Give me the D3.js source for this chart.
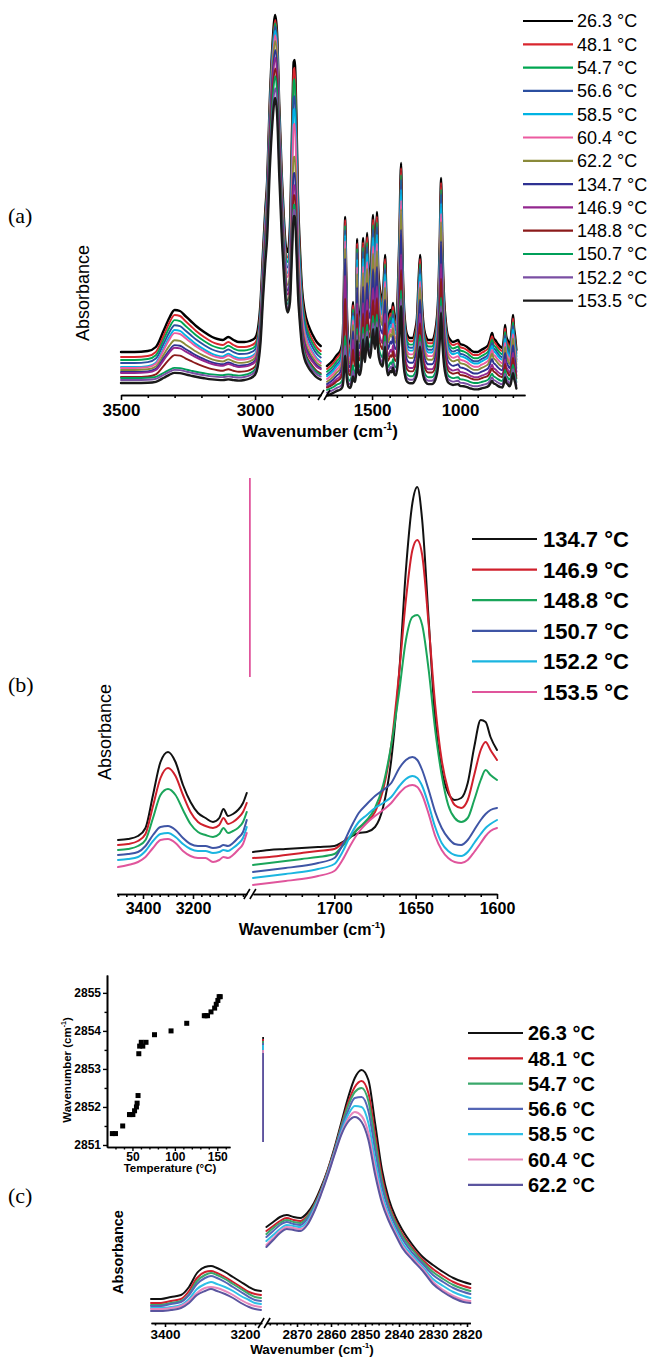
<!DOCTYPE html>
<html>
<head>
<meta charset="utf-8">
<script src="https://cdn.jsdelivr.net/npm/d3@7"></script>
<style>
  html, body { margin: 0; padding: 0; background: #fff; }
  svg { display: block; }
</style>
</head>
<body>
<svg id="fig" width="654" height="1357"></svg>
<script>
// ---------------------------------------------------------------
// Panel (a): full spectra, 13 temperatures
// ---------------------------------------------------------------
const tempsA = ["26.3 °C", "48.1 °C", "54.7 °C", "56.6 °C", "58.5 °C", "60.4 °C", "62.2 °C",
                "134.7 °C", "146.9 °C", "148.8 °C", "150.7 °C", "152.2 °C", "153.5 °C"];
const colorsA = ["#000000", "#d9262e", "#00a651", "#2b4fa0", "#00b3e3", "#ec5ba0", "#8a8a3a",
                 "#2e3192", "#93278f", "#8b1a1a", "#009f59", "#7a4fa3", "#1a1a1a"];

// high-wavenumber window (cm-1) and band profiles of the 26.3 °C spectrum
const wnLeftA = [3500, 3450, 3400, 3370, 3340, 3320, 3300, 3280, 3260, 3240, 3220, 3190, 3160, 3140,
                 3120, 3100, 3080, 3060, 3040, 3020, 3000, 2990, 2980, 2970, 2962, 2955, 2945, 2935,
                 2925, 2918, 2910, 2900, 2892, 2885, 2878, 2870, 2862, 2856, 2852, 2846, 2840, 2832,
                 2825, 2815, 2800, 2785, 2770, 2755];
const nhBand = [0, 0, 1, 5, 22, 34, 42, 41, 36, 31, 26, 20, 15, 13, 12, 15, 12, 10, 9, 8, 6, 4, 3, 2, 1,
                0, 0, 0, 0, 0, 0, 0, 0, 0, 0, 0, 0, 0, 0, 0, 0, 0, 0, 0, 0, 0, 0, 0];
const ch2920Band = [0, 0, 0, 0, 0, 0, 0, 0, 0, 0, 0, 0, 0, 0, 0, 0, 0, 0, 1, 3, 8, 18, 45, 100, 140,
                    170, 250, 305, 332, 312, 240, 160, 110, 70, 50, 35, 22, 15, 12, 9, 7, 5, 4, 3, 2, 1, 0, 0];
const ch2850Band = [0, 0, 0, 0, 0, 0, 0, 0, 0, 0, 0, 0, 0, 0, 0, 0, 0, 0, 0, 0, 0, 0, 0, 0, 0,
                    0, 2, 3, 5, 8, 10, 15, 22, 35, 50, 90, 200, 275, 280, 230, 150, 95, 60, 38, 24, 16, 10, 6];

// fingerprint window (cm-1) and band profiles of the 26.3 °C spectrum
const wnRightA = [1756, 1720, 1700, 1685, 1675, 1668, 1662, 1657, 1653, 1649, 1644, 1638, 1632, 1625, 1618,
                  1613, 1608, 1603, 1597, 1590, 1585, 1578, 1570, 1560, 1551, 1545, 1540, 1534, 1528, 1520,
                  1510, 1502, 1494, 1488, 1483, 1478, 1472, 1465, 1455, 1445, 1440, 1433, 1426, 1418, 1410,
                  1403, 1395, 1388, 1381, 1373, 1365, 1355, 1345, 1335, 1328, 1320, 1310, 1300, 1285, 1270,
                  1255, 1245, 1235, 1227, 1218, 1210, 1195, 1180, 1160, 1140, 1125, 1115, 1108, 1100, 1090,
                  1080, 1070, 1055, 1040, 1025, 1011, 1000, 980, 960, 940, 920, 900, 880, 860, 840, 830,
                  818, 810, 800, 785, 770, 760, 752, 744, 738, 730, 720, 712, 706, 699, 693, 686, 680];
const amideBand = [0, 0, 1, 3, 6, 14, 45, 100, 136, 105, 50, 20, 10, 9, 18, 35, 48, 28, 12, 6, 4, 2, 1,
                   0, 0, 0, 0, 0, 0, 0, 0, 0, 0, 0, 0, 0, 0, 0, 0, 0, 0, 0, 0, 0, 0, 0, 0, 0, 0, 0, 0, 0, 0, 0,
                   0, 0, 0, 0, 0, 0, 0, 0, 0, 0, 0, 0, 0, 0, 0, 0, 0, 0, 0, 0, 0, 0, 0, 0, 0, 0, 0, 0, 0, 0, 0,
                   0, 0, 0, 0, 0, 0, 0, 0, 0, 0, 0, 0, 0, 0, 0, 0, 0, 0, 0, 0, 0, 0, 0];
const fingerprintBand = [-8, -2, 2, 3, 4, 4, 5, 5, 5, 5, 5, 5, 5, 4, 5, 6, 8, 10, 16, 40, 115, 45, 38, 60, 120,
                         80, 68, 100, 125, 90, 78, 110, 143, 110, 98, 120, 146, 90, 68, 60, 58, 80, 103, 60,
                         38, 42, 48, 45, 55, 40, 38, 60, 120, 195, 110, 58, 32, 23, 20, 20, 28, 40, 80, 103,
                         60, 38, 22, 18, 18, 28, 58, 120, 180, 110, 58, 35, 23, 18, 16, 17, 18, 14, 13, 11,
                         8, 6, 6, 8, 10, 13, 18, 25, 20, 18, 14, 11, 10, 18, 33, 22, 18, 13, 18, 30, 43, 30, 20, 8];

// per-temperature baselines and band intensities
const baseLeftA  = [43, 38, 35, 32, 28, 27, 25, 23, 22, 18, 17, 15, 12];
const baseRightA = [37, 34, 31, 28, 26, 23, 20, 17, 14, 12, 9, 6, 3];
const nhScaleA   = [1, 1, 0.95, 0.9, 0.88, 0.83, 0.71, 0.64, 0.6, 0.52, 0.24, 0.24, 0.24];
const ch2920ScaleA = [1, 1, 1, 1, 1, 0.99, 0.98, 0.96, 0.94, 0.92, 0.9, 0.87, 0.85];
const ch2850ScaleA = [1, 0.99, 0.96, 0.91, 0.88, 0.83, 0.72, 0.67, 0.63, 0.61, 0.58, 0.57, 0.56];
const amideScaleA  = [1, 1, 0.98, 0.97, 0.95, 0.93, 0.9, 0.85, 0.75, 0.6, 0.35, 0.3, 0.25];
const fpScaleA     = [1, 0.99, 0.97, 0.96, 0.92, 0.88, 0.85, 0.76, 0.65, 0.58, 0.49, 0.46, 0.44];

// ---------------------------------------------------------------
// Panel (b): melting region, 6 temperatures
// ---------------------------------------------------------------
const tempsB = ["134.7 °C", "146.9 °C", "148.8 °C", "150.7 °C", "152.2 °C", "153.5 °C"];
const colorsB = ["#111111", "#d0202c", "#1aa55a", "#3f55a5", "#1bb5e0", "#e0559c"];
const wnLeftB = [3500, 3460, 3420, 3390, 3360, 3330, 3300, 3270, 3240, 3210, 3180, 3150, 3120, 3095,
                 3078, 3060, 3040, 3020, 3000, 2985];
const absLeftB = [
  [54, 55, 58, 66, 99, 132, 142, 132, 109, 92, 81, 76, 72, 76, 85, 78, 80, 84, 91, 101],
  [49, 50, 53, 60, 88, 116, 126, 118, 99, 82, 72, 68, 66, 69, 76, 70, 72, 76, 82, 91],
  [44, 45, 48, 54, 76, 99, 105, 99, 84, 70, 62, 59, 57, 60, 66, 61, 63, 66, 72, 82],
  [39, 40, 42, 48, 59, 67, 68, 64, 56, 50, 48, 48, 46, 47, 49, 48, 51, 56, 62, 74],
  [34, 35, 37, 43, 53, 60, 61, 57, 50, 45, 43, 43, 41, 42, 44, 43, 46, 50, 56, 67],
  [27, 29, 32, 37, 46, 54, 55, 51, 43, 38, 36, 36, 32, 34, 37, 36, 39, 44, 50, 61]
];
const wnRightB = [1750, 1740, 1730, 1720, 1710, 1700, 1695, 1690, 1685, 1680, 1675, 1670, 1665, 1660,
                  1656, 1652, 1649, 1646, 1642, 1638, 1634, 1630, 1626, 1622, 1618, 1614, 1610, 1607, 1604, 1600];
const absRightB = [
  [42, 44, 45, 46, 47, 48, 52, 57, 61, 62, 67, 87, 134, 224, 324, 391, 407, 374, 274, 174, 124, 101, 94, 96, 111, 147, 174, 172, 157, 144],
  [36, 37, 39, 41, 43, 45, 51, 58, 66, 72, 82, 104, 149, 224, 294, 344, 354, 339, 269, 189, 134, 104, 89, 86, 94, 119, 144, 152, 144, 134],
  [29, 31, 33, 35, 37, 40, 48, 57, 66, 74, 86, 109, 149, 204, 254, 277, 279, 269, 224, 164, 119, 89, 76, 72, 76, 94, 114, 124, 119, 114],
  [22, 24, 26, 28, 31, 36, 49, 66, 81, 90, 98, 104, 111, 126, 134, 137, 134, 124, 104, 82, 66, 56, 50, 49, 54, 64, 74, 80, 84, 86],
  [16, 18, 20, 22, 25, 30, 42, 59, 72, 79, 86, 91, 97, 108, 115, 118, 116, 108, 89, 67, 51, 43, 39, 38, 42, 51, 60, 66, 70, 74],
  [9, 11, 13, 15, 18, 23, 34, 49, 62, 71, 78, 84, 91, 101, 107, 109, 107, 99, 80, 58, 44, 36, 32, 31, 34, 42, 51, 58, 63, 66]
];
const stubB = [416, 217];   // vertical trace at the axis break

// ---------------------------------------------------------------
// Panel (c): CH2 symmetric stretch, 7 temperatures + inset
// ---------------------------------------------------------------
const tempsC = ["26.3 °C", "48.1 °C", "54.7 °C", "56.6 °C", "58.5 °C", "60.4 °C", "62.2 °C"];
const colorsC = ["#111111", "#d01f2e", "#3aa86b", "#5466b5", "#2ec0e6", "#e889bd", "#5b559f"];
const wnLeftC = [3435, 3410, 3385, 3360, 3340, 3320, 3300, 3285, 3270, 3250, 3230, 3210, 3190, 3175, 3160];
const absLeftC = [
  [24, 24, 26, 28, 36, 50, 56, 57, 55, 51, 46, 41, 36, 33, 32],
  [20, 20, 22, 24, 32, 45, 51, 52, 50, 46, 41, 36, 31, 29, 28],
  [18, 18, 20, 22, 29, 42, 48, 50, 48, 44, 39, 34, 29, 26, 25],
  [17, 17, 19, 21, 28, 39, 45, 47, 45, 41, 36, 31, 26, 23, 22],
  [15, 15, 16, 18, 24, 34, 39, 41, 39, 36, 32, 27, 23, 20, 19],
  [14, 14, 15, 17, 22, 30, 35, 36, 35, 32, 28, 23, 19, 17, 16],
  [12, 12, 13, 15, 20, 28, 32, 34, 32, 29, 25, 20, 16, 14, 13]
];
const wnRightC = [2879, 2877, 2875, 2873, 2871, 2869, 2867, 2865, 2863, 2861, 2859, 2857, 2855, 2853,
                  2851, 2849, 2847, 2845, 2843, 2841, 2839, 2836, 2833, 2830, 2827, 2824, 2821, 2819];
const absRightC = [
  [96, 101, 106, 108, 106, 105, 110, 120, 135, 153, 175, 200, 225, 245, 253, 243, 199, 153, 124, 106, 93, 78, 66, 58, 51, 45, 41, 39],
  [92, 97, 102, 105, 103, 102, 107, 118, 133, 152, 173, 197, 220, 236, 242, 230, 188, 146, 119, 102, 89, 75, 63, 54, 47, 41, 37, 35],
  [89, 95, 100, 103, 101, 100, 106, 117, 132, 151, 172, 196, 217, 231, 235, 222, 181, 141, 116, 100, 87, 73, 61, 51, 44, 38, 34, 32],
  [86, 92, 98, 101, 99, 98, 104, 115, 131, 150, 171, 194, 212, 225, 226, 212, 172, 136, 113, 97, 84, 70, 59, 48, 41, 35, 31, 29],
  [82, 88, 94, 98, 97, 96, 101, 114, 130, 149, 170, 191, 208, 217, 216, 200, 162, 129, 108, 93, 80, 67, 56, 44, 37, 31, 27, 25],
  [78, 85, 92, 96, 95, 94, 99, 112, 129, 148, 169, 189, 204, 211, 207, 190, 154, 124, 105, 90, 77, 65, 54, 41, 33, 27, 23, 22],
  [76, 83, 90, 94, 93, 92, 98, 111, 128, 147, 168, 188, 201, 206, 201, 183, 148, 120, 102, 88, 75, 63, 52, 39, 31, 25, 21, 20]
];
const stubTopC = [286, 284, 282, 280, 278, 273, 270];
const stubBottomC = 181;

// inset: band position vs temperature
const insetTemp = [26.3, 30.0, 38.5, 46.5, 48.1, 50.5, 52.5, 54.7, 55.5, 56.6, 57.5, 58.5, 60.4, 62.2,
                   66.0, 76.0, 95.5, 114.0, 134.7, 136.5, 138.5, 142.6, 146.9, 148.8, 150.7, 152.2, 153.5];
const insetWn = [2851.3, 2851.3, 2851.5, 2851.8, 2851.8, 2851.8, 2851.9, 2852.0, 2852.1, 2852.3, 2853.4,
                 2853.6, 2853.7, 2853.6, 2853.7, 2853.9, 2854.0, 2854.2, 2854.4, 2854.4, 2854.4, 2854.5,
                 2854.6, 2854.7, 2854.8, 2854.9, 2854.9];
const insetYTicks = [2851, 2852, 2853, 2854, 2855];
const insetXTicks = [50, 100, 150];

// ---------------------------------------------------------------
const SANS = "'Liberation Sans', Arial, Helvetica, sans-serif";
const SERIF = "'Liberation Serif', 'Times New Roman', serif";
const svg = d3.select("#fig");

// bottom axis split into two windows with a "//" break between them
function brokenAxis(y0, segs, cfg) {
  const g = svg.append("g");
  segs.forEach(s => {
    const minor = g.append("g").attr("transform", `translate(0,${y0})`)
      .call(d3.axisBottom(s.scale).tickValues(s.minor).tickSize(cfg.minorLen).tickFormat("").tickSizeOuter(0));
    const major = g.append("g").attr("transform", `translate(0,${y0})`)
      .call(d3.axisBottom(s.scale).tickValues(s.major).tickSize(cfg.majorLen)
        .tickPadding(cfg.pad).tickFormat(d3.format("d")).tickSizeOuter(0));
    [minor, major].forEach(a => {
      a.select(".domain").attr("stroke", "#000").attr("stroke-width", cfg.lw);
      a.selectAll(".tick line").attr("stroke", "#000").attr("stroke-width", cfg.lw);
    });
    major.selectAll(".tick text")
      .style("font-family", SANS).style("font-weight", "bold")
      .style("font-size", cfg.fs + "px").attr("fill", "#000");
  });
  const xm = (segs[0].scale.range()[1] + segs[1].scale.range()[0]) / 2;
  [-3, 3].forEach(dx => {
    g.append("line")
      .attr("x1", xm + dx - 3).attr("y1", y0 + 5)
      .attr("x2", xm + dx + 3).attr("y2", y0 - 5)
      .attr("stroke", "#000").attr("stroke-width", cfg.lw);
  });
}

function wnTitle(x, y, size) {
  const t = svg.append("text").attr("x", x).attr("y", y).attr("text-anchor", "middle")
    .style("font-family", SANS).style("font-weight", "bold").style("font-size", size + "px");
  t.append("tspan").text("Wavenumber (cm");
  t.append("tspan").attr("dy", -size * 0.42).style("font-size", (size * 0.6) + "px").text("-1");
  t.append("tspan").attr("dy", size * 0.42).text(")");
}

function yTitle(x, y, size, weight) {
  svg.append("text").attr("transform", `translate(${x},${y}) rotate(-90)`)
    .attr("text-anchor", "middle")
    .style("font-family", SANS).style("font-weight", weight).style("font-size", size + "px")
    .text("Absorbance");
}

function panelTag(txt, x, y) {
  svg.append("text").attr("x", x).attr("y", y)
    .style("font-family", SERIF).style("font-size", "22px").text(txt);
}

function legend(labels, colors, cfg) {
  const g = svg.append("g");
  const row = g.selectAll("g").data(labels).join("g")
    .attr("transform", (d, i) => `translate(0,${cfg.y0 + i * cfg.dy})`);
  row.append("line").attr("x1", cfg.x1).attr("x2", cfg.x2)
    .attr("stroke", (d, i) => colors[i]).attr("stroke-width", 2.2);
  row.append("text").attr("x", cfg.tx).attr("y", cfg.size * 0.36)
    .style("font-family", SANS).style("font-weight", cfg.weight)
    .style("font-size", cfg.size + "px").text(d => d);
}

function drawSeries(xs, ys, pts, color, width) {
  const line = d3.line().x(d => xs(d[0])).y(d => ys(d[1])).curve(d3.curveMonotoneX);
  svg.append("path").datum(pts).attr("d", line)
    .attr("fill", "none").attr("stroke", color).attr("stroke-width", width)
    .attr("stroke-linejoin", "round").attr("stroke-linecap", "round");
}

// ---------------------------- (a) ----------------------------
{
  const xL = d3.scaleLinear().domain([3500, 2754]).range([121, 321]);
  const xR = d3.scaleLinear().domain([1756, 631]).range([327, 525]);
  const y = d3.scaleLinear().domain([0, 380]).range([395, 15]);

  tempsA.forEach((t, i) => {
    const left = wnLeftA.map((wn, k) => [wn,
      baseLeftA[i] + nhScaleA[i] * nhBand[k] + ch2920ScaleA[i] * ch2920Band[k] + ch2850ScaleA[i] * ch2850Band[k]]);
    const right = wnRightA.map((wn, k) => [wn,
      baseRightA[i] + amideScaleA[i] * amideBand[k] + fpScaleA[i] * fingerprintBand[k]]);
    const w = (i === 0 || i === tempsA.length - 1) ? 2.4 : 1.9;
    drawSeries(xL, y, left, colorsA[i], w);
    drawSeries(xR, y, right, colorsA[i], w);
  });

  brokenAxis(395, [
    { scale: xL, major: [3500, 3000], minor: d3.range(3400, 2750, -100).filter(v => v !== 3000) },
    { scale: xR, major: [1500, 1000], minor: d3.range(1700, 640, -100).filter(v => v !== 1500 && v !== 1000) }
  ], { majorLen: 5, minorLen: 3, pad: 4, lw: 1.6, fs: 17 });
  wnTitle(320, 437, 17);
  yTitle(89, 293, 18, "normal");
  panelTag("(a)", 8, 223);
  legend(tempsA, colorsA, { y0: 21, dy: 23.3, x1: 523, x2: 573, tx: 577, size: 18, weight: "normal" });
}

// ---------------------------- (b) ----------------------------
{
  const xL = d3.scaleLinear().domain([3505, 2985]).range([116.75, 246.75]);
  const xR = d3.scaleLinear().domain([1750, 1600]).range([253, 497]);
  const y = d3.scaleLinear().domain([0, 420]).range([894, 474]);

  // vertical trace drawn at the break
  const xb = (xL.range()[1] + xR.range()[0]) / 2;
  svg.append("line").attr("x1", xb).attr("x2", xb)
    .attr("y1", y(stubB[0])).attr("y2", y(stubB[1]))
    .attr("stroke", colorsB[5]).attr("stroke-width", 1.8);

  tempsB.forEach((t, i) => {
    drawSeries(xL, y, wnLeftB.map((wn, k) => [wn, absLeftB[i][k]]), colorsB[i], 2);
    drawSeries(xR, y, wnRightB.map((wn, k) => [wn, absRightB[i][k]]), colorsB[i], 2);
  });

  brokenAxis(894, [
    { scale: xL, major: [3400, 3200], minor: d3.range(0, 16).map(k => 3500 - k * 100 / 3).filter(v => Math.abs(v - 3400) > 1 && Math.abs(v - 3200) > 1) },
    { scale: xR, major: [1700, 1650, 1600], minor: d3.range(1740, 1600, -10).filter(v => v % 50 !== 0) }
  ], { majorLen: 5, minorLen: 3, pad: 4, lw: 1.6, fs: 16 });
  wnTitle(312, 935, 16);
  yTitle(111, 732, 18, "normal");
  panelTag("(b)", 8, 692);
  legend(tempsB, colorsB, { y0: 539, dy: 30.6, x1: 472, x2: 537, tx: 543, size: 22, weight: "bold" });
}

// ---------------------------- (c) ----------------------------
{
  const xL = d3.scaleLinear().domain([3435, 3158]).range([151, 261.8]);
  const xR = d3.scaleLinear().domain([2879, 2819]).range([266.4, 470.4]);
  const y = d3.scaleLinear().domain([0, 290]).range([1323, 1033]);

  const xb = (xL.range()[1] + xR.range()[0]) / 2 - 1;
  tempsC.forEach((t, i) => {
    svg.append("line").attr("x1", xb).attr("x2", xb)
      .attr("y1", y(stubTopC[i])).attr("y2", y(stubBottomC))
      .attr("stroke", colorsC[i]).attr("stroke-width", 1.8);
  });

  tempsC.forEach((t, i) => {
    drawSeries(xL, y, wnLeftC.map((wn, k) => [wn, absLeftC[i][k]]), colorsC[i], 2);
    drawSeries(xR, y, wnRightC.map((wn, k) => [wn, absRightC[i][k]]), colorsC[i], 2);
  });

  brokenAxis(1323, [
    { scale: xL, major: [3400, 3200], minor: d3.range(3425, 3158, -25).filter(v => v !== 3400 && v !== 3200) },
    { scale: xR, major: [2870, 2860, 2850, 2840, 2830, 2820], minor: d3.range(2878, 2819, -2).filter(v => v % 10 !== 0) }
  ], { majorLen: 4, minorLen: 2.5, pad: 2, lw: 1.6, fs: 13.5 });
  wnTitle(312, 1354, 13.5);
  yTitle(123, 1252, 14.5, "bold");
  panelTag("(c)", 8, 1203);
  legend(tempsC, colorsC, { y0: 1033, dy: 25.3, x1: 468, x2: 523, tx: 528, size: 20, weight: "bold" });

  // inset
  const xi = d3.scaleLinear().domain([20, 165]).range([107, 230]);
  const yi = d3.scaleLinear().domain([2850.947, 2855.47]).range([1147, 975]);
  const gi = svg.append("g");
  const styleAxis = (a) => {
    a.select(".domain").attr("stroke", "#000").attr("stroke-width", 1.6);
    a.selectAll(".tick line").attr("stroke", "#000").attr("stroke-width", 1.4);
    a.selectAll(".tick text").style("font-family", SANS).style("font-weight", "bold")
      .style("font-size", "12px").attr("fill", "#000");
  };
  gi.append("g").attr("transform", "translate(107,0)")
    .call(d3.axisLeft(yi).tickValues(d3.range(2851.5, 2855.2, 1)).tickSize(2.5).tickFormat("").tickSizeOuter(0))
    .call(styleAxis);
  gi.append("g").attr("transform", "translate(107,0)")
    .call(d3.axisLeft(yi).tickValues(insetYTicks).tickSize(4).tickPadding(2).tickFormat(d3.format("d")).tickSizeOuter(0))
    .call(styleAxis);
  gi.append("g").attr("transform", "translate(0,1147)")
    .call(d3.axisBottom(xi).tickValues(d3.range(30, 165, 10).filter(v => v % 50 !== 0)).tickSize(2.5).tickFormat("").tickSizeOuter(0))
    .call(styleAxis);
  gi.append("g").attr("transform", "translate(0,1147)")
    .call(d3.axisBottom(xi).tickValues(insetXTicks).tickSize(4).tickPadding(1).tickFormat(d3.format("d")).tickSizeOuter(0))
    .call(styleAxis);

  gi.selectAll("rect.pt").data(insetTemp).join("rect").attr("class", "pt")
    .attr("x", (d) => xi(d) - 2.5).attr("y", (d, i) => yi(insetWn[i]) - 2.5)
    .attr("width", 5).attr("height", 5).attr("fill", "#000");

  gi.append("text").attr("x", 170).attr("y", 1172).attr("text-anchor", "middle")
    .style("font-family", SANS).style("font-weight", "bold").style("font-size", "11.5px")
    .text("Temperature (°C)");
  const yl = gi.append("text").attr("transform", "translate(71,1070) rotate(-90)").attr("text-anchor", "middle")
    .style("font-family", SANS).style("font-weight", "bold").style("font-size", "11.5px");
  yl.append("tspan").text("Wavenumber (cm");
  yl.append("tspan").attr("dy", -5).style("font-size", "7px").text("-1");
  yl.append("tspan").attr("dy", 5).text(")");
}
</script>
</body>
</html>
